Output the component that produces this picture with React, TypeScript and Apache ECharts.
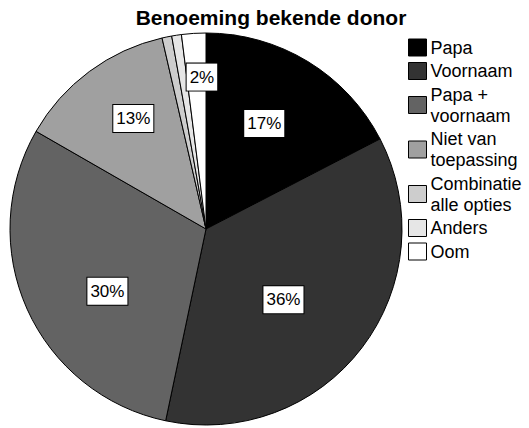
import React, { useEffect, useRef } from "react";
import * as echarts from "echarts";

const title = "Benoeming bekende donor";
const categories = [
  "Papa",
  "Voornaam",
  "Papa +\nvoornaam",
  "Niet van\ntoepassing",
  "Combinatie\nalle opties",
  "Anders",
  "Oom",
];
const values = [17.4, 35.9, 30.0, 13.1, 0.8, 0.8, 2.0];
const colors = ["#000000", "#333333", "#636363", "#a0a0a0", "#cdcdcd", "#e6e6e6", "#ffffff"];
const showLabel = [true, true, true, true, false, false, true];
const labelRadiusFrac = [0.6, 0.52, 0.58, 0.66, 0.5, 0.5, 0.76];
const labelAngleShift = [-2.5, 5.3, -8.4, 3.3, 0, 0, 2.1];

const FONT = "'Liberation Sans', Arial, sans-serif";
const R = 196;

export default function App() {
  const ref = useRef<HTMLDivElement>(null);
  useEffect(() => {
    if (!ref.current) return;
    const chart = echarts.init(ref.current, null, { renderer: "svg" });
    const total = values.reduce((a, b) => a + b, 0);
    let cum = 0;
    const data = values.map((v, i) => {
      const mid = ((cum + v / 2) / total) * Math.PI * 2;
      cum += v;
      const target = mid + (labelAngleShift[i] * Math.PI) / 180;
      const rt = labelRadiusFrac[i] * R;
      const r0 = 0.5 * R;
      return {
        name: categories[i],
        value: v,
        itemStyle: { color: colors[i] },
        label: {
          show: showLabel[i],
          offset: [
            rt * Math.sin(target) - r0 * Math.sin(mid),
            -rt * Math.cos(target) + r0 * Math.cos(mid),
          ],
        },
      };
    });
    chart.setOption({
      animation: false,
      backgroundColor: "#ffffff",
      title: {
        text: title,
        left: 271,
        textAlign: "center",
        top: 7,
        padding: 0,
        textStyle: { fontFamily: FONT, fontSize: 21, fontWeight: "bold", color: "#000" },
      },
      legend: {
        orient: "vertical",
        left: 408,
        top: 37,
        padding: 0,
        itemWidth: 18,
        itemHeight: 17,
        itemGap: 2.5,
        icon: "rect",
        selectedMode: false,
        itemStyle: { borderColor: "#000", borderWidth: 1 },
        textStyle: { fontFamily: FONT, fontSize: 18, lineHeight: 21, color: "#000", padding: [0, 0, 0, -1] },
        data: categories,
      },
      series: [
        {
          type: "pie",
          center: [206, 229],
          radius: [0, R],
          startAngle: 90,
          clockwise: true,
          avoidLabelOverlap: false,
          itemStyle: { borderColor: "#000", borderWidth: 1 },
          emphasis: { disabled: true },
          labelLine: { show: false },
          label: {
            position: "inside",
            formatter: (p: any) => Math.round(p.percent) + "%",
            fontFamily: FONT,
            fontSize: 17,
            color: "#000",
            backgroundColor: "#fff",
            borderColor: "#000",
            borderWidth: 1,
            padding: [6, 3, 4, 3],
          },
          data,
        },
      ],
    });
    return () => chart.dispose();
  }, []);
  return (
    <div
      ref={ref}
      style={{ position: "absolute", left: 0, top: 0, width: 529, height: 428 }}
    />
  );
}
